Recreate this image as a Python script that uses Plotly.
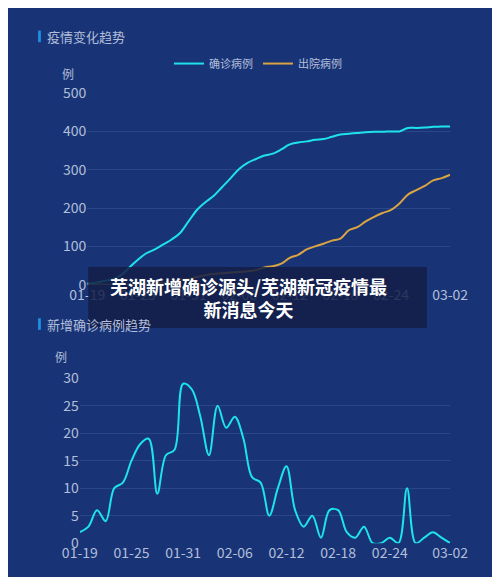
import plotly.graph_objects as go
from datetime import date, timedelta

dates = [(date(2020,1,19)+timedelta(days=i)).strftime("%m-%d") for i in range(44)]
confirmed = [3,5,10,14,25,45,65,82,92,105,118,135,165,195,215,232,255,278,302,318,328,337,342,353,366,371,374,378,380,386,392,394,396,398,399,399,400,400,409,409,410,412,413,413]
discharged = [0,0,0,0,0,0,1,2,3,5,8,12,15,20,25,28,30,32,33,35,38,45,48,55,70,78,92,100,107,115,120,142,150,165,177,187,195,212,235,247,258,272,278,287]
daily_new = [2,3,6,4,10,11,15,18,19,9,16,17,29,28,23,16,25,21,23,19,12,11,5,10,14,6,3,5,1,6,6,2,1,3,0,0,1,0,10,0,1,2,1,0]
tick_idx = [0,6,12,18,24,30,36,43]

idx = list(range(len(dates)))
cyan = "#1ee3ea"; orange = "#d9a441"; tickc = "#b3bfd9"; grid = "#2a4788"
fig = go.Figure()
fig.add_trace(go.Scatter(x=idx, y=confirmed, name="确诊病例", mode="lines", line=dict(color=cyan, width=2, shape="spline"), xaxis="x", yaxis="y"))
fig.add_trace(go.Scatter(x=idx, y=discharged, name="出院病例", mode="lines", line=dict(color=orange, width=2, shape="spline"), xaxis="x", yaxis="y"))
fig.add_trace(go.Scatter(x=idx, y=daily_new, name="新增", mode="lines", showlegend=False, line=dict(color=cyan, width=2, shape="spline"), xaxis="x2", yaxis="y2"))

ax = dict(tickvals=tick_idx, ticktext=[dates[i] for i in tick_idx], showgrid=False, zeroline=False,
          tickfont=dict(color=tickc, size=14), range=[0, 43], showline=False, ticks="")
ay = dict(showgrid=True, gridcolor=grid, zeroline=False, tickfont=dict(color=tickc, size=14), ticks="", ticklen=4)
fig.update_layout(
    width=500, height=577, margin=dict(l=0, r=0, t=0, b=0),
    paper_bgcolor="#183477", plot_bgcolor="#183477",
    font=dict(family="Noto Sans CJK SC"),
    xaxis=dict(ax, domain=[0.132, 0.914], anchor="y"),
    yaxis=dict(ay, domain=[0.523, 0.867], range=[0, 500], dtick=100, anchor="x"),
    xaxis2=dict(ax, domain=[0.116, 0.914], anchor="y2"),
    yaxis2=dict(ay, domain=[0.059, 0.355], range=[0, 30], dtick=5, anchor="x2"),
    legend=dict(orientation="h", x=0.5, xanchor="center", y=0.92, yanchor="middle", font=dict(color=tickc, size=11), bgcolor="rgba(0,0,0,0)"),
    shapes=[
        dict(type="rect", xref="paper", yref="paper", x0=0.026, x1=0.032, y0=1-24/577, y1=1-12/577, fillcolor="#1e90e0", line_width=0),
        dict(type="rect", xref="paper", yref="paper", x0=0.026, x1=0.032, y0=1-322/577, y1=1-310/577, fillcolor="#1e90e0", line_width=0),
        dict(type="rect", xref="paper", yref="paper", x0=0.134, x1=0.864, y0=1-320/577, y1=1-257/577, fillcolor="rgba(20,30,70,0.85)", line_width=0, layer="above"),
    ],
    annotations=[
        dict(text="疫情变化趋势", xref="paper", yref="paper", x=0.04, y=1-18/577, xanchor="left", yanchor="middle", showarrow=False, font=dict(color="#b3bfd9", size=13)),
        dict(text="新增确诊病例趋势", xref="paper", yref="paper", x=0.04, y=1-316/577, xanchor="left", yanchor="middle", showarrow=False, font=dict(color="#b3bfd9", size=13)),
        dict(text="例", xref="paper", yref="paper", x=0.09, y=1-56/577, xanchor="center", yanchor="middle", showarrow=False, font=dict(color=tickc, size=12)),
        dict(text="例", xref="paper", yref="paper", x=0.075, y=1-350/577, xanchor="center", yanchor="middle", showarrow=False, font=dict(color=tickc, size=12)),
        dict(text="<b>芜湖新增确诊源头/芜湖新冠疫情最</b><br><b>新消息今天</b>", xref="paper", yref="paper", x=0.48, y=1-288/577, xanchor="center", yanchor="middle", showarrow=False, font=dict(color="white", size=18), align="center"),
    ],
)
fig.write_html("out.html")
